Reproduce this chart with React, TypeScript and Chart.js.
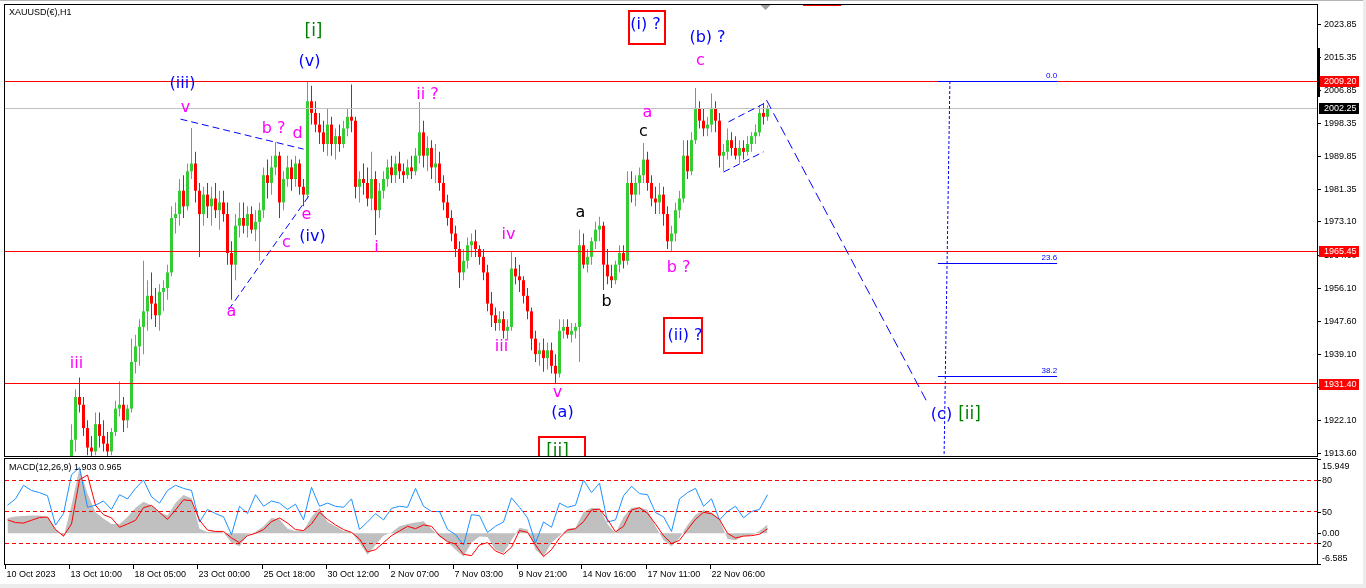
import React, { useEffect, useRef } from "react";
import { Chart, registerables } from "chart.js";

Chart.register(...registerables);

// ---------- price bars (H1 chart, one entry ≈ 4 hours) ----------
const opens = [
  1858,1860,1862,1864,1863,1866,1870,1873,1871,1869,
  1876,1881,1874,1869,1872,1878,1887,1917,1928,1926,
  1920,1915,1914,1921,1918,1916,1914,1919,1925,1926,
  1922,1925,1937,1941,1946,1950,1954,1952,1949,1955,
  1956,1960,1974,1975,1981,1977,1986,1988,1981,1975,
  1980,1977,1979,1976,1978,1975,1965,1962,1972,1974,
  1972,1975,1971,1973,1976,1985,1983,1987,1990,1978,
  1984,1987,1984,1988,1982,1980,2004,2001,1998,1996,
  1993,1998,1993,1995,1993,1997,2000,1999,1982,1984,
  1983,1979,1984,1976,1981,1984,1987,1985,1988,1986,
  1985,1987,1986,1990,1996,1990,1992,1987,1988,1983,
  1978,1974,1970,1966,1960,1963,1967,1968,1966,1964,
  1960,1952,1949,1947,1948,1945,1946,1961,1959,1958,
  1954,1950,1943,1939,1940,1938,1940,1936,1934,1945,
  1946,1944,1945,1946,1967,1962,1964,1968,1971,1972,
  1962,1959,1958,1962,1965,1963,1983,1980,1983,1985,
  1989,1983,1979,1978,1980,1975,1968,1970,1976,1979,
  1990,1986,1994,2002,1999,1997,1998,2002,1999,1990,
  1991,1994,1992,1990,1992,1991,1993,1995,1996,2001,
  2000,
];
const highs = [
  1862,1864,1866,1867,1868,1872,1875,1876,1874,1878,
  1885,1884,1877,1874,1880,1890,1921,1930,1933,1928,
  1922,1918,1924,1924,1922,1919,1920,1927,1932,1928,
  1926,1943,1944,1948,1963,1958,1960,1956,1957,1958,
  1962,1977,1978,1984,1985,1988,1997.1,1991,1983,1982,
  1983,1982,1983,1981,1981,1978,1968,1975,1978,1978,
  1977,1977,1976,1978,1987,1989,1990,1993.5,1991,1986,
  1990,1989,1990,1989,1984,2009.2,2008,2004,2001,1999,
  2002,2000,1997,1998,1999,2002,2008.3,2000,1986,1988,
  1987,1991,1986,1983,1986,1989,1990,1990,1991,1988,
  1989,1990,1992,2003.8,1999,1995,1994,1993,1991,1985,
  1980,1976,1972,1968,1966,1969,1970,1971,1967,1966,
  1962,1955,1951,1950,1950,1948,1965.5,1964,1962,1959,
  1956,1951,1945,1942,1943,1942,1942,1939,1948,1948,
  1948,1947,1947,1971,1970,1966,1969,1973,1974.3,1973,
  1966,1962,1963,1967,1967,1986,1986,1985,1987,1993.3,
  1991,1985,1982,1983,1982,1977,1972,1978,1981,1994,
  1994,1996,2007.4,2004,2002,2000,2006,2004,2001,1993,
  1997,1996,1995,1994,1994,1995,1996,1998,2003,2003.5,
  2003,
];
const lows = [
  1856,1858,1860,1861,1862,1865,1868,1869,1867,1868,
  1874,1872,1866,1867,1870,1876,1885,1914,1924,1918,
  1913,1911,1913,1915,1914,1912,1913,1918,1923,1919,
  1920,1924,1934,1936,1939,1945,1948,1946,1945,1950,
  1953,1959,1970,1972,1974,1976,1984,1978,1964,1972,
  1974,1972,1974,1971,1973,1962,1953,1958,1969,1970,
  1969,1970,1968,1963,1974,1979,1980,1985,1974,1976,
  1982,1981,1982,1980,1977,1979,1998,1996,1993,1991,
  1990,1990,1989,1991,1992,1995,1996,1979,1978,1980,
  1977,1976,1969.6,1974,1979,1982,1983,1983,1984,1983,
  1984,1984,1985,1988,1987,1986,1984,1983,1981,1976,
  1972,1968,1964,1956,1958,1961,1964,1964,1962,1958,
  1950,1946,1945,1945,1943,1942.5,1945,1957,1955,1952,
  1948,1940,1937,1936,1934.5,1935,1934,1931.4,1933,1943,
  1943,1942,1943,1937,1961,1960,1962,1966,1968,1955.5,
  1957,1956,1957,1960,1961,1962,1978,1977,1980,1983,
  1981,1977,1975,1975,1972,1966,1965.45,1968,1974,1978,
  1984,1985,1993,1997,1995,1995,1996,1996,1987,1986,
  1989,1990,1989,1988,1989,1990,1991,1993,1995,1998,
  1999,
];
const closes = [
  1860,1862,1864,1863,1866,1870,1873,1871,1869,1876,
  1881,1874,1869,1872,1878,1887,1917,1928,1926,1920,
  1915,1914,1921,1918,1916,1914,1919,1925,1926,1922,
  1925,1937,1941,1946,1950,1954,1952,1949,1955,1956,
  1960,1974,1975,1981,1977,1986,1988,1981,1975,1980,
  1977,1979,1976,1978,1975,1965,1962,1972,1974,1972,
  1975,1971,1973,1976,1985,1983,1987,1990,1978,1984,
  1987,1984,1988,1982,1980,2004,2001,1998,1996,1993,
  1998,1993,1995,1993,1997,2000,1999,1982,1984,1983,
  1979,1984,1976,1981,1984,1987,1985,1988,1986,1985,
  1987,1986,1990,1996,1990,1992,1987,1988,1983,1978,
  1974,1970,1966,1960,1963,1967,1968,1966,1964,1960,
  1952,1949,1947,1948,1945,1946,1961,1959,1958,1954,
  1950,1943,1939,1940,1938,1940,1936,1934,1945,1946,
  1944,1945,1946,1967,1962,1964,1968,1971,1972,1962,
  1959,1958,1962,1965,1963,1983,1980,1983,1985,1989,
  1983,1979,1978,1980,1975,1968,1970,1976,1979,1990,
  1986,1994,2002,1999,1997,1998,2002,1999,1990,1991,
  1994,1992,1990,1992,1991,1993,1995,1996,2001,2000,
  2002.25,
];

// ---------- MACD panel (one value every 2nd bar) ----------
const macdStep = 2;
const macdMain = [
  3.3,3.6,3.7,3.8,3.8,3.5,1.0,-0.8,6.0,14.0,
  8.5,4.5,3.2,2.0,2.0,3.5,5.5,6.8,6.0,4.5,
  3.8,6.5,8.2,7.5,1.0,0.3,0.5,0.2,-2.0,-2.8,
  -0.3,0.3,1.5,3.3,3.0,1.0,0.5,0.6,3.5,5.5,
  2.5,1.5,0.5,0.3,-2.0,-4.6,-2.5,-0.5,0.2,1.5,
  2.0,2.3,2.6,1.0,-0.8,-1.8,-3.5,-5.0,-2.0,-0.7,
  -0.8,-3.5,-4.2,-1.5,1.2,0.8,-3.5,-5.0,-2.0,-0.5,
  1.0,1.2,4.5,5.5,5.3,2.0,0.0,3.5,5.5,5.6,
  5.0,1.5,-1.5,-2.8,-1.0,1.8,4.0,5.0,4.5,3.0,
  -1.2,-1.5,-0.6,-0.4,0.5,1.903,
];
const macdSignal = [
  2.9,2.3,2.2,2.8,3.4,3.5,0.8,-0.6,2.0,11.5,
  12.5,6.0,4.0,3.3,1.3,2.0,2.8,5.5,6.0,4.5,
  3.0,5.0,7.2,7.0,2.8,0.7,0.4,0.4,-1.0,-2.0,
  -0.5,0.0,0.8,2.5,3.3,2.2,0.8,0.6,2.0,4.5,
  3.0,1.8,0.8,0.2,-1.2,-4.0,-3.5,-2.0,-0.5,0.5,
  1.5,1.0,1.8,1.5,-0.5,-1.8,-2.3,-4.5,-4.8,-2.5,
  -2.0,-3.8,-4.5,-3.0,0.6,0.2,-2.5,-5.0,-3.5,-1.0,
  0.7,1.0,2.5,5.0,5.2,3.0,0.3,1.5,5.0,5.5,
  4.3,2.0,-0.5,-2.2,-1.5,0.8,3.0,4.5,4.2,3.0,
  0.0,-1.0,-0.6,-0.5,-0.2,0.965,
];
const oscillator = [
  56,62,75,70,68,65,37,48,85,92,
  54,56,60,52,66,62,72,80,64,58,
  70,75,72,70,40,52,48,45,28,55,
  48,66,55,60,58,52,57,42,73,55,
  58,55,54,62,33,40,48,42,53,55,
  54,72,55,50,50,33,28,18,47,46,
  30,36,40,63,54,44,20,40,35,58,
  54,56,80,68,77,40,42,65,74,67,
  66,49,45,31,62,68,72,55,62,42,
  50,55,44,50,52,66,
];
const oscLevels = [80, 50, 20];

// ---------- axes / levels ----------
const priceTickLabels = ["2023.85","2015.35","2006.85","1998.35","1989.85","1981.35","1973.10","1964.60","1956.10","1947.60","1939.10","1930.60","1922.10","1913.60"];
const timeLabels = ["10 Oct 2023","13 Oct 10:00","18 Oct 05:00","23 Oct 00:00","25 Oct 18:00","30 Oct 12:00","2 Nov 07:00","7 Nov 03:00","9 Nov 21:00","14 Nov 16:00","17 Nov 11:00","22 Nov 06:00"];
const timeLabelBars = [-0.6,15.35,31.35,47.4,63.5,79.5,95.3,111.3,127.25,143.4,159.5,175.5];
const redLevels = [2009.2, 1965.45, 1931.4];
const currentPrice = 2002.25;
const fibTop = 2009.2;
const fibBase = 1810.2;
const fibLevels = [0, 23.6, 38.2];

const BLUE = "#0000ff";
const MAG = "#ff00ff";
const BLK = "#000000";
const GRN = "#008000";
const UP = "#33cc33";
const DOWN = "#ff0000";
const LEVEL_RED = "rgb(255,0,0)";

const waveLabels = [
  { text: "[i]", color: GRN, bar: 76.5, price: 2021.8, size: 17 },
  { text: "(v)", color: BLUE, bar: 75.5, price: 2014.1 },
  { text: "(iii)", color: BLUE, bar: 43.75, price: 2008.4 },
  { text: "v", color: MAG, bar: 44.5, price: 2002.3 },
  { text: "b ?", color: MAG, bar: 66.5, price: 1996.9 },
  { text: "d", color: MAG, bar: 72.5, price: 1995.6 },
  { text: "e", color: MAG, bar: 74.75, price: 1974.8 },
  { text: "(iv)", color: BLUE, bar: 76.25, price: 1969.1 },
  { text: "c", color: MAG, bar: 69.75, price: 1967.6 },
  { text: "a", color: MAG, bar: 56, price: 1949.8 },
  { text: "iii", color: MAG, bar: 17.25, price: 1936.5 },
  { text: "i", color: MAG, bar: 92.25, price: 1966.3 },
  { text: "ii ?", color: MAG, bar: 105, price: 2005.6 },
  { text: "iv", color: MAG, bar: 125.25, price: 1969.6 },
  { text: "iii", color: MAG, bar: 123.5, price: 1940.8 },
  { text: "v", color: MAG, bar: 137.5, price: 1929.0 },
  { text: "(a)", color: BLUE, bar: 138.75, price: 1923.9 },
  { text: "a", color: BLK, bar: 143.25, price: 1975.3 },
  { text: "b", color: BLK, bar: 149.75, price: 1952.4 },
  { text: "c", color: BLK, bar: 159, price: 1996.1 },
  { text: "a", color: MAG, bar: 160, price: 2001.0 },
  { text: "b ?", color: MAG, bar: 167.75, price: 1961.1 },
  { text: "(b) ?", color: BLUE, bar: 175, price: 2020.3 },
  { text: "c", color: MAG, bar: 173.25, price: 2014.3 },
  { text: "(c)", color: BLUE, bar: 233.5, price: 1923.4 },
  { text: "[ii]", color: GRN, bar: 240.5, price: 1923.6, size: 17 },
];

const boxedLabels = [
  { text: "(i) ?", color: BLUE, bar: 159.5, price: 2023.6, boxBar: 159.75, boxPrice: 2023.0, w: 36, h: 33, size: 16 },
  { text: "(ii) ?", color: BLUE, bar: 169.4, price: 1943.8, boxBar: 168.75, boxPrice: 1943.8, w: 38, h: 35, size: 16 },
  { text: "[ii]", color: GRN, bar: 137.5, price: 1913.9, boxBar: 138.5, boxPrice: 1913.35, w: 46, h: 34, size: 17 },
];

const waveLines = [
  { from: [43.25, 1999.4], to: [74, 1991.7], dash: [7, 4] },
  { from: [55.25, 1950.4], to: [75.5, 1979.9], dash: [7, 4] },
  { from: [180.25, 1998.7], to: [189.5, 2003.6], dash: [7, 4] },
  { from: [179, 1985.8], to: [189, 1991.0], dash: [7, 4] },
  { from: [189.75, 2004.3], to: [230, 1926.5], dash: [10, 5] },
];
const fibLineBars = [235.6, 232.6];
const fibLevelBars = [232.6, 262.4];

const AXIS_FONT = '9px "Liberation Sans", Arial, sans-serif';
const waveFont = (s: number) => `${s}px "DejaVu Sans", Verdana, sans-serif`;

const X_MIN = -0.625;
const X_MAX = 327.375;

function seg(ctx: any, x1: number, y1: number, x2: number, y2: number) {
  ctx.beginPath();
  ctx.moveTo(x1, y1);
  ctx.lineTo(x2, y2);
  ctx.stroke();
}

function txt(ctx: any, s: string, x: number, y: number, color: string, font: string, align = "center") {
  ctx.fillStyle = color;
  ctx.font = font;
  ctx.textAlign = align;
  ctx.textBaseline = "middle";
  ctx.fillText(s, x, y);
}

const mainPanelPlugin = {
  id: "mainPanel",
  afterDatasetsDraw(chart: any) {
    const { ctx, chartArea: a, scales } = chart;
    const X = (b: number) => scales.x.getPixelForValue(b);
    const Y = (p: number) => scales.y.getPixelForValue(p);
    ctx.save();
    ctx.globalAlpha = 1;
    ctx.globalCompositeOperation = "source-over";
    ctx.beginPath();
    ctx.rect(a.left, a.top, a.right - a.left, a.bottom - a.top);
    ctx.clip();

    // horizontal price levels (1px rows)
    ctx.fillStyle = "#c0c0c0";
    ctx.fillRect(a.left, Math.floor(Y(currentPrice)), a.right - a.left, 1);
    ctx.fillStyle = LEVEL_RED;
    redLevels.forEach((p) => {
      ctx.fillRect(a.left, Math.floor(Y(p)), a.right - a.left, 1);
    });

    // fibonacci
    ctx.strokeStyle = BLUE;
    ctx.lineWidth = 1;
    ctx.setLineDash([3, 2]);
    seg(ctx, X(fibLineBars[0]), Y(fibTop), X(fibLineBars[1]), Y(fibBase));
    ctx.setLineDash([]);
    fibLevels.forEach((r) => {
      const p = fibTop - ((fibTop - fibBase) * r) / 100;
      const py = Math.floor(Y(p));
      ctx.fillStyle = BLUE;
      ctx.fillRect(X(fibLevelBars[0]), py, X(fibLevelBars[1]) - X(fibLevelBars[0]), 1);
      txt(ctx, r.toFixed(1), X(fibLevelBars[1]), py - 5, BLUE, '8px "Liberation Sans", Arial, sans-serif', "right");
    });

    // wave lines
    ctx.strokeStyle = BLUE;
    ctx.lineWidth = 1;
    waveLines.forEach((l) => {
      ctx.setLineDash(l.dash);
      seg(ctx, X(l.from[0]), Y(l.from[1]), X(l.to[0]), Y(l.to[1]));
    });
    ctx.setLineDash([]);

    // labels
    waveLabels.forEach((l) => {
      txt(ctx, l.text, X(l.bar), Y(l.price), l.color, waveFont(l.size || 16));
    });
    boxedLabels.forEach((l) => {
      ctx.strokeStyle = LEVEL_RED;
      ctx.lineWidth = 2;
      const cx = X(l.boxBar);
      const cy = Y(l.boxPrice);
      ctx.strokeRect(Math.round(cx - l.w / 2), Math.round(cy - l.h / 2), l.w, l.h);
      txt(ctx, l.text, X(l.bar), Y(l.price), l.color, waveFont(l.size));
    });
    ctx.restore();
  },
  afterDraw(chart: any) {
    const { ctx, chartArea: a, scales } = chart;
    const X = (b: number) => scales.x.getPixelForValue(b);
    const Y = (p: number) => scales.y.getPixelForValue(p);
    ctx.save();
    // border
    ctx.strokeStyle = "#000";
    ctx.lineWidth = 1;
    ctx.strokeRect(a.left - 0.5, a.top + 0.5, a.right - a.left + 1, a.bottom - a.top);
    // price axis
    priceTickLabels.forEach((s) => {
      const py = Math.round(Y(parseFloat(s))) + 0.5;
      ctx.strokeStyle = "#000";
      seg(ctx, a.right + 1, py, a.right + 4, py);
      txt(ctx, s, a.right + 7, py, "#000", AXIS_FONT, "left");
    });
    const tag = (p: number, bg: string) => {
      const py = Math.round(Y(p));
      ctx.fillStyle = bg;
      ctx.fillRect(a.right + 2, py - 5, 40, 11);
      txt(ctx, p.toFixed(2), a.right + 7, py + 0.5, "#fff", AXIS_FONT, "left");
    };
    tag(currentPrice, "#000");
    redLevels.forEach((p) => tag(p, LEVEL_RED));
    // scale marker on axis
    ctx.fillStyle = "#000";
    ctx.fillRect(a.right, Math.round(Y(2017.7)), 3, Math.round(Y(2005.1) - Y(2017.7)));
    // chart shift marker
    const sx = Math.round(X(189.4)) + 0.5;
    ctx.fillStyle = "#a0a0a0";
    ctx.beginPath();
    ctx.moveTo(sx - 5, a.top + 1);
    ctx.lineTo(sx + 5, a.top + 1);
    ctx.lineTo(sx, a.top + 6);
    ctx.closePath();
    ctx.fill();
    ctx.fillStyle = LEVEL_RED;
    ctx.fillRect(X(198.9), a.top + 1, X(208.4) - X(198.9), 1);
    // title
    txt(ctx, "XAUUSD(€),H1", 9, 13, "#000", AXIS_FONT, "left");
    ctx.restore();
  },
};

const macdPanelPlugin = {
  id: "macdPanel",
  afterDatasetsDraw(chart: any) {
    const { ctx, chartArea: a, scales } = chart;
    ctx.save();
    ctx.strokeStyle = LEVEL_RED;
    ctx.lineWidth = 1;
    ctx.setLineDash([4, 3]);
    oscLevels.forEach((v) => {
      const py = Math.floor(scales.y2.getPixelForValue(v)) + 0.5;
      seg(ctx, a.left, py, a.right, py);
    });
    ctx.restore();
  },
  afterDraw(chart: any) {
    const { ctx, chartArea: a, scales } = chart;
    const X = (b: number) => scales.x.getPixelForValue(b);
    ctx.save();
    ctx.strokeStyle = "#000";
    ctx.lineWidth = 1;
    ctx.strokeRect(a.left - 0.5, a.top - 0.5, a.right - a.left + 1, a.bottom - a.top + 1);
    // right axis
    const yMax = scales.y.max;
    const yMin = scales.y.min;
    const marks = [
      { py: scales.y.getPixelForValue(yMax), ly: 7, s: yMax.toFixed(3) },
      { py: scales.y2.getPixelForValue(80), ly: 0, s: "80" },
      { py: scales.y2.getPixelForValue(50), ly: 0, s: "50" },
      { py: scales.y.getPixelForValue(0), ly: 0, s: "0.00" },
      { py: scales.y2.getPixelForValue(20), ly: 1, s: "20" },
      { py: scales.y.getPixelForValue(yMin), ly: -6, s: yMin.toFixed(3) },
    ];
    marks.forEach((m) => {
      const py = Math.round(m.py) + 0.5;
      seg(ctx, a.right + 1, py, a.right + 4, py);
      txt(ctx, m.s, a.right + 5, py + m.ly, "#000", AXIS_FONT, "left");
    });
    // time axis
    timeLabels.forEach((s, k) => {
      const px = Math.round(X(timeLabelBars[k])) + 0.5;
      seg(ctx, px, a.bottom + 1, px, a.bottom + 5);
      txt(ctx, s, px + 1, a.bottom + 10.5, "#000", AXIS_FONT, "left");
    });
    const last = macdMain.length - 1;
    txt(ctx, `MACD(12,26,9) ${macdMain[last].toFixed(3)} ${macdSignal[last].toFixed(3)}`, 9, a.top + 8.5, "#000", AXIS_FONT, "left");
    ctx.restore();
  },
};

export default function App() {
  const mainRef = useRef<HTMLCanvasElement>(null);
  const macdRef = useRef<HTMLCanvasElement>(null);

  useEffect(() => {
    const colors = opens.map((o, i) => (closes[i] >= o ? UP : DOWN));
    const wickData = highs.map((h, i) => ({ x: i, y: [lows[i], h] }));
    const bodyData = opens.map((o, i) => {
      const c = closes[i];
      const lo = Math.min(o, c);
      const hi = Math.max(o, c);
      return { x: i, y: hi - lo < 0.2 ? [lo - 0.1, hi + 0.1] : [lo, hi] };
    });

    const main = new Chart(mainRef.current as HTMLCanvasElement, {
      type: "bar",
      data: {
        datasets: [
          { data: bodyData as any, backgroundColor: colors, barThickness: 3, grouped: false, borderWidth: 0, inflateAmount: 0 } as any,
          { data: wickData as any, backgroundColor: colors, barThickness: 1, grouped: false, borderWidth: 0, inflateAmount: 0 } as any,
        ],
      },
      options: {
        responsive: false,
        animation: false,
        events: [],
        layout: { padding: { left: 5, right: 49, top: 4, bottom: 132 } },
        plugins: { legend: { display: false }, tooltip: { enabled: false } },
        scales: {
          x: { type: "linear", min: X_MIN, max: X_MAX, display: false, offset: false, grid: { display: false } },
          y: { type: "linear", min: 1912.83, max: 2028.99, display: false, grid: { display: false } },
        },
      } as any,
      plugins: [mainPanelPlugin],
    });

    const pts = (arr: number[]) => arr.map((v, k) => ({ x: k * macdStep, y: v }));
    const macd = new Chart(macdRef.current as HTMLCanvasElement, {
      type: "line",
      data: {
        datasets: [
          { data: pts(macdSignal), borderColor: "#ff0000", borderWidth: 1, pointRadius: 0, yAxisID: "y", fill: false, tension: 0 },
          { data: pts(oscillator), borderColor: "#1e90ff", borderWidth: 1, pointRadius: 0, yAxisID: "y2", fill: false, tension: 0 },
          { data: pts(macdMain), borderWidth: 0, borderColor: "rgba(0,0,0,0)", backgroundColor: "#c0c0c0", pointRadius: 0, yAxisID: "y", fill: "origin", tension: 0 },
        ] as any,
      },
      options: {
        responsive: false,
        animation: false,
        events: [],
        layout: { padding: { left: 5, right: 49, top: 459, bottom: 24 } },
        plugins: { legend: { display: false }, tooltip: { enabled: false } },
        scales: {
          x: { type: "linear", min: X_MIN, max: X_MAX, display: false },
          y: { type: "linear", min: -6.585, max: 15.949, display: false },
          y2: { type: "linear", min: 0, max: 100, display: false },
        },
      } as any,
      plugins: [macdPanelPlugin],
    });

    return () => {
      main.destroy();
      macd.destroy();
    };
  }, []);

  return (
    <div style={{ position: "fixed", left: 0, top: 0, width: 1366, height: 588, background: "#fff", overflow: "hidden" }}>
      <div style={{ position: "absolute", left: 0, top: 0, width: 1366, height: 1, background: "#b4b4b4" }} />
      <div style={{ position: "absolute", left: 0, top: 584, width: 1366, height: 4, background: "#ececec" }} />
      <div style={{ position: "absolute", left: 1363, top: 0, width: 3, height: 588, background: "#ececec" }} />
      <canvas ref={mainRef} width={1366} height={588} style={{ position: "absolute", left: 0, top: 0 }} />
      <canvas ref={macdRef} width={1366} height={588} style={{ position: "absolute", left: 0, top: 0 }} />
    </div>
  );
}
